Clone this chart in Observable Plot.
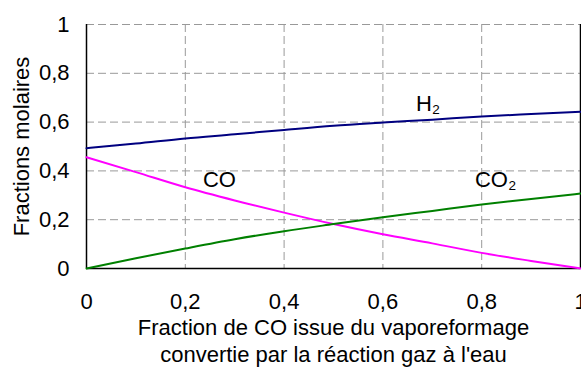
<!DOCTYPE html>
<html>
<head>
<meta charset="utf-8">
<script src="https://cdn.jsdelivr.net/npm/d3@7"></script>
<script src="https://cdn.jsdelivr.net/npm/@observablehq/plot@0.6"></script>
<style>
  html, body { margin: 0; padding: 0; background: #ffffff; }
  #chart { width: 581px; height: 370px; overflow: hidden; }
</style>
</head>
<body>
<div id="chart"></div>
<script>
// ---- data ----
const conversion = [0, 0.1, 0.2, 0.3, 0.4, 0.5, 0.6, 0.7, 0.8, 0.9, 1];
const h2  = [0.493, 0.512, 0.533, 0.550, 0.568, 0.585, 0.598, 0.610, 0.623, 0.633, 0.642];
const co  = [0.456, 0.395, 0.333, 0.279, 0.229, 0.182, 0.140, 0.103, 0.064, 0.031, 0.0];
const co2 = [0.0, 0.042, 0.082, 0.120, 0.153, 0.182, 0.210, 0.236, 0.262, 0.285, 0.307];

const seriesNames  = ["H2", "CO", "CO2"];
const seriesColors = ["#000080", "#ff00ff", "#008000"];

const xTicks = [0, 0.2, 0.4, 0.6, 0.8, 1];
const yTicks = [0, 0.2, 0.4, 0.6, 0.8, 1];

const yTitle = "Fractions molaires";
const xTitle1 = "Fraction de CO issue du vaporeformage";
const xTitle2 = "convertie par la réaction gaz à l'eau";

// series labels (main text + subscript), anchored in data units
const subLabels = [
  {main: "H",  sub: "2", x: 0.699, y: 0.676},
  {main: "CO", sub: "2", x: 0.853, y: 0.364}
];
const plainLabels = [
  {main: "CO", x: 0.269, y: 0.361}
];

// ---- build table ----
const valuesBySeries = {H2: h2, CO: co, CO2: co2};
const rows = [];
for (const s of seriesNames) {
  conversion.forEach((x, i) => rows.push({series: s, x, y: valuesBySeries[s][i]}));
}

const fmt = d => String(d).replace(".", ",");
const FONT = "'Liberation Sans', Arial, sans-serif";
const FS = 22;

const chart = Plot.plot({
  width: 581,
  height: 370,
  marginLeft: 86,
  marginRight: 1,
  marginTop: 24,
  marginBottom: 102,
  style: {fontFamily: FONT, fontSize: FS + "px", color: "#000", background: "#fff", overflow: "visible"},
  x: {domain: [0, 1], ticks: xTicks, tickFormat: fmt, tickSize: 0, tickPadding: 25, label: null},
  y: {domain: [0, 1], ticks: yTicks, tickFormat: fmt, tickSize: 0, tickPadding: 17, label: null},
  color: {domain: seriesNames, range: seriesColors},
  marks: [
    Plot.gridX(xTicks.filter(d => d < 1), {stroke: "#999", strokeOpacity: 1, strokeWidth: 1, strokeDasharray: "8,4"}),
    Plot.gridY(yTicks.filter(d => d > 0), {stroke: "#999", strokeOpacity: 1, strokeWidth: 1, strokeDasharray: "8,4"}),
    Plot.ruleX([0, 1], {stroke: "#000", strokeWidth: 1.5}),
    Plot.ruleY([0], {stroke: "#000", strokeWidth: 1.5}),
    Plot.line(rows, {x: "x", y: "y", z: "series", stroke: "series", strokeWidth: 2, curve: "monotone-x"}),
    // series labels
    Plot.text(plainLabels, {x: "x", y: "y", text: "main", textAnchor: "middle", fontSize: FS, fill: "#000"}),
    Plot.text(subLabels, {x: "x", y: "y", text: "main", textAnchor: "end", fontSize: FS, fill: "#000"}),
    Plot.text(subLabels, {x: "x", y: "y", text: "sub", textAnchor: "start", dx: 0.5, dy: 6, fontSize: 13.5, fill: "#000"}),
    // axis titles
    Plot.text([yTitle], {frameAnchor: "left", text: d => d, rotate: -90, textAnchor: "middle", dx: -64.6, fontSize: FS, fill: "#000"}),
    Plot.text([xTitle1], {frameAnchor: "bottom", text: d => d, textAnchor: "middle", dy: 66.8, fontSize: FS, fill: "#000"}),
    Plot.text([xTitle2], {frameAnchor: "bottom", text: d => d, textAnchor: "middle", dy: 93.3, fontSize: FS, fill: "#000"})
  ]
});

document.getElementById("chart").appendChild(chart);
</script>
</body>
</html>
